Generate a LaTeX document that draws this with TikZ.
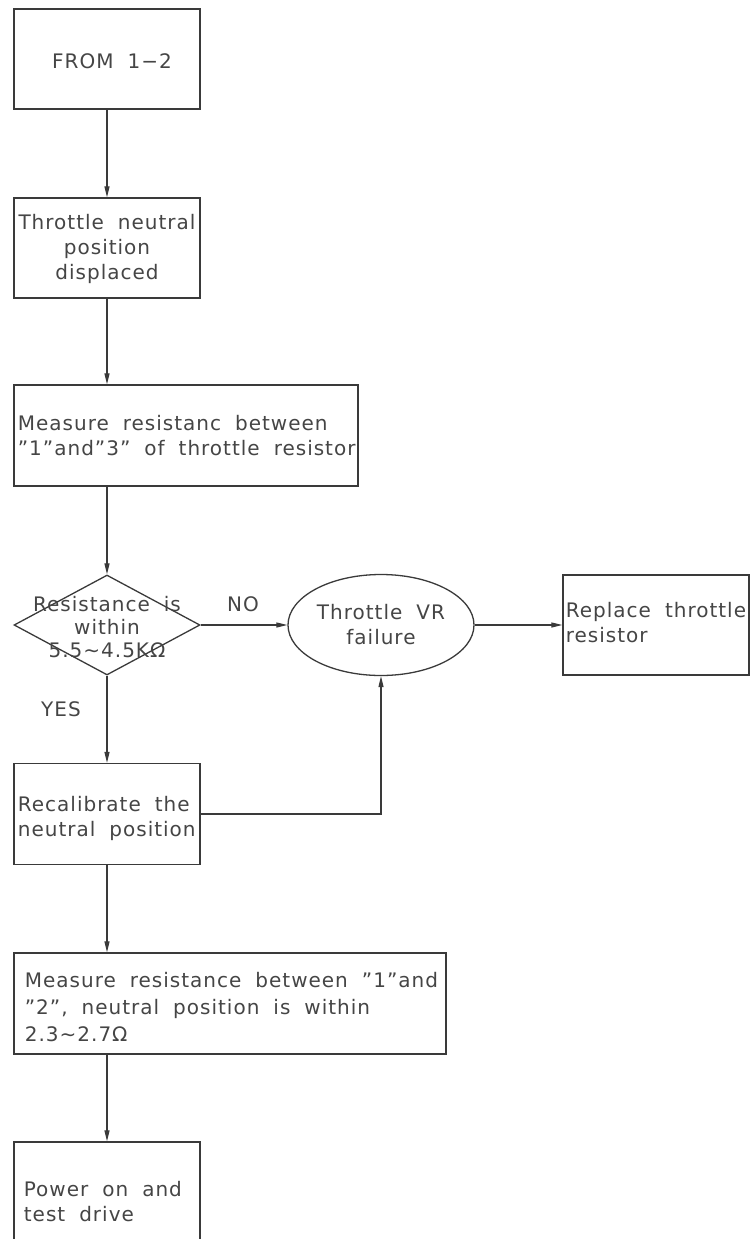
\documentclass[tikz,border=0pt]{standalone}
\usepackage{fontspec}
\setmainfont{DejaVu Sans}[LetterSpace=5]
\usetikzlibrary{arrows.meta,shapes.geometric}
\definecolor{ink}{HTML}{3A3A3A}
\definecolor{txt}{HTML}{454545}
% CAD-like lettering: slightly tracked, with wide gaps between words
\newcommand{\cadtext}[1]{\fontsize{20}{#1}\selectfont}
\begin{document}
\begin{tikzpicture}[x=1pt,y=-1pt,
  every node/.style={font=\cadtext{25}, text=txt, execute at begin node={\spaceskip=14pt\relax}},
  box/.style={draw=ink, line width=1.3pt, rectangle, inner sep=0pt},
  lefttext/.style={align=left, text width=#1},
  link/.style={draw=ink, line width=1.1pt, -{Triangle[length=11pt,width=5pt]}}]
\useasboundingbox (0,0) rectangle (752,1239);

% process steps
\node[box, minimum width=186pt, minimum height=100pt] (start) at (107,59) {};
\node at (112,61) {FROM 1−2};
\node[box, minimum width=186pt, minimum height=100pt] (displaced) at (107,248) {};
\node[align=center, yshift=-1pt] at (displaced.center) {Throttle neutral\\position\\displaced};
\node[box, minimum width=344pt, minimum height=101pt] (measure13) at (186,435.5) {};
\node[lefttext=343pt, anchor=west, xshift=1pt] at (measure13.west) {Measure resistanc between\\"1"and"3" of throttle resistor};

% decision
\node[diamond, draw=ink, line width=1.3pt, minimum width=186pt, minimum height=100pt, inner sep=0pt, shape aspect=1.86] (check) at (107,625) {};
\node[align=center, yshift=-2pt, font=\cadtext{23}] at (check.center) {Resistance is\\within\\5.5\textasciitilde4.5KΩ};

\node[ellipse, draw=ink, line width=1.3pt, minimum width=186pt, minimum height=101pt, inner sep=0pt, align=center] (failure) at (381,625)
  {Throttle VR\\failure};
\node[box, minimum width=186pt, minimum height=100pt] (replace) at (656,625) {};
\node[lefttext=190pt, anchor=west, yshift=2pt] at (replace.west) {Replace throttle\\resistor};

\node[box, minimum width=186pt, minimum height=101pt] (recal) at (107,814) {};
\node[lefttext=186pt, anchor=west, xshift=1pt, yshift=-4pt] at (recal.west) {Recalibrate the\\neutral position};

\node[box, minimum width=432pt, minimum height=101pt] (measure12) at (230,1003.5) {};
\node[lefttext=430pt, anchor=west, xshift=8pt, yshift=-4pt, font=\cadtext{27}] at (measure12.west) {Measure resistance between "1"and\\"2", neutral position is within\\2.3\textasciitilde2.7Ω};

\node[box, minimum width=186pt, minimum height=120pt] (drive) at (107,1202) {};
\node[lefttext=180pt, anchor=west, xshift=7pt] at (drive.west) {Power on and\\test drive};

% connectors
\draw[link] (start.south) -- (displaced.north);
\draw[link] (displaced.south) -- (displaced.south |- measure13.north);
\draw[link] (check.north |- measure13.south) -- (check.north);
\draw[link] (check.east) -- (failure.west);
\node at (243,604) {NO};
\draw[link] (failure.east) -- (replace.west);
\draw[link] (check.south) -- (recal.north);
\node at (61,709) {YES};
\draw[link] (recal.east) -| (failure.south);
\draw[link] (recal.south) -- (recal.south |- measure12.north);
\draw[link] (drive.north |- measure12.south) -- (drive.north);
\end{tikzpicture}
\end{document}
